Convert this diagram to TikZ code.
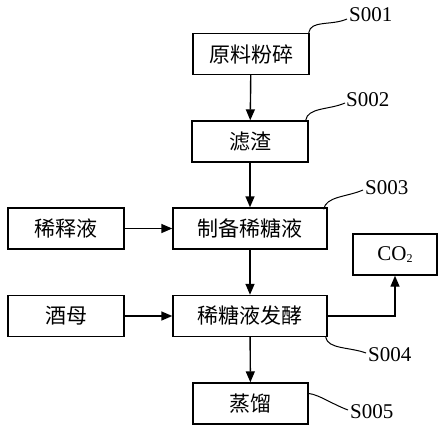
\documentclass[tikz,border=0pt]{standalone}
\usepackage{fontspec}
\setmainfont{Liberation Serif}
\newfontfamily\cjk{Noto Sans CJK SC}
\usetikzlibrary{positioning,calc,arrows.meta}

\begin{document}
\begin{tikzpicture}[x=1pt,y=-1pt,
        box/.style={draw, line width=1.4pt, rectangle, minimum height=41pt, inner sep=0pt,
            font=\cjk\fontsize{21}{21}\selectfont},
        flow/.style={-{Triangle[length=11pt,width=9pt]}, line width=1.4pt},
        lead/.style={line width=1pt},
        stag/.style={font=\fontsize{21}{21}\selectfont, inner sep=0pt, anchor=west}]
        \useasboundingbox (0,0) rectangle (444,431);
        % the process steps
        \node [box, minimum width=116pt] (yuanliao) at (251,54) {原料粉碎};
        \node [box, minimum width=116pt] (lvzha) at (250,141.5) {滤渣};
        \node [box, minimum width=154pt] (zhibei) at (250,228.5) {制备稀糖液};
        \node [box, minimum width=116pt] (xishi) at (66,228.5) {稀释液};
        \node [box, minimum width=84pt, font=\fontsize{21}{21}\selectfont] (co2) at (395,254.5)
            {CO\raisebox{-0.3ex}{\fontsize{12}{12}\selectfont 2}};
        \node [box, minimum width=116pt] (jiumu) at (66,316) {酒母};
        \node [box, minimum width=154pt] (fajiao) at (250,316) {稀糖液发酵};
        \node [box, minimum width=115pt] (zhengliu) at (250.5,403.5) {蒸馏};
        % connect the steps
        \draw [flow] (yuanliao) -- (lvzha);
        \draw [flow] (lvzha) -- (zhibei);
        \draw [flow] (xishi) -- (zhibei);
        \draw [flow] (zhibei) -- (fajiao);
        \draw [flow] (jiumu) -- (fajiao);
        \draw [flow] (fajiao.east) -| (co2.south);
        \draw [flow] (fajiao) -- (zhengliu);
        % step labels
        \node [stag] (s1) at (349,15) {S001};
        \node [stag] (s2) at (346,100) {S002};
        \node [stag] (s3) at (365,188) {S003};
        \node [stag] (s4) at (368,355) {S004};
        \node [stag] (s5) at (350,412) {S005};
        \draw [lead] ($(yuanliao.north east)+(-1,0)$) .. controls +(2,-13) and +(-16,7) .. ($(s1.west)+(-2,4)$);
        \draw [lead] ($(lvzha.north east)+(-3,0)$) .. controls +(2,-13) and +(-16,7) .. ($(s2.west)+(-1,3)$);
        \draw [lead] ($(zhibei.north east)+(-4,2)$) .. controls +(2,-13) and +(-16,7) .. ($(s3.west)+(-2,2)$);
        \draw [lead] ($(fajiao.south east)+(-2,0)$) .. controls +(2,12) and +(-16,-6) .. ($(s4.west)+(-2,-2)$);
        \draw [lead] ($(zhengliu.east)+(0,-10)$) .. controls +(10,1) and +(-16,-6) .. ($(s5.west)+(-2,-2)$);
\end{tikzpicture}
\end{document}
